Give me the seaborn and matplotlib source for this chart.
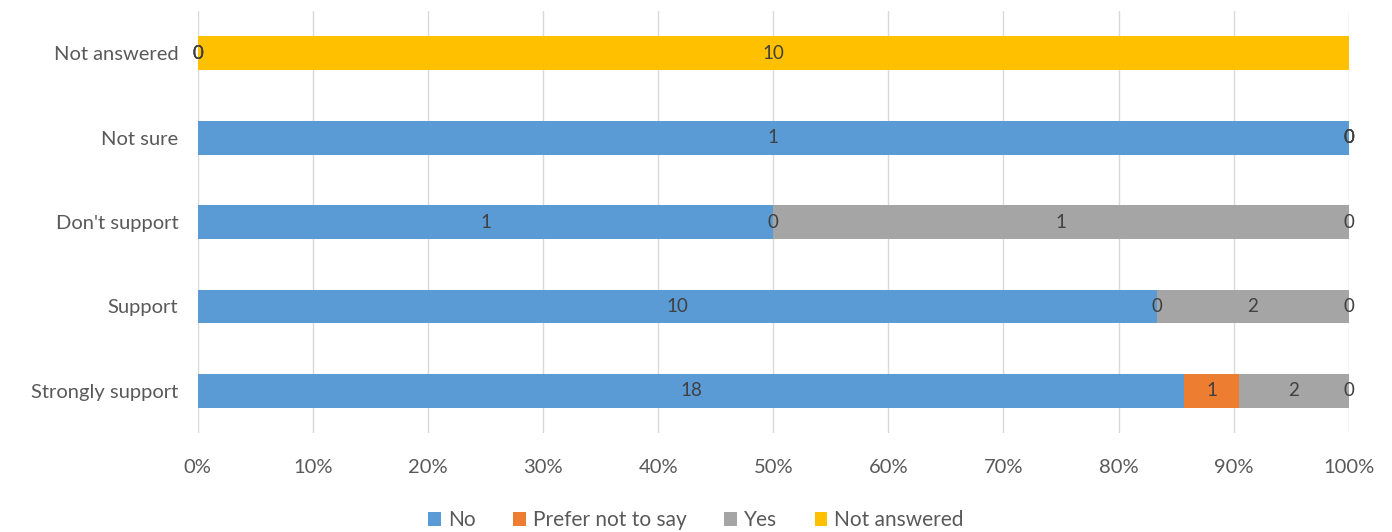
import numpy as np
import pandas as pd
import matplotlib
matplotlib.use("Agg")
import matplotlib.pyplot as plt
import seaborn as sns
from matplotlib.patches import Patch

# categories top -> bottom
categories = ["Not answered", "Not sure", "Don't support", "Support", "Strongly support"]
series = ["No", "Prefer not to say", "Yes", "Not answered"]
no_vals = [0, 1, 1, 10, 18]
prefer_vals = [0, 0, 0, 0, 1]
yes_vals = [0, 0, 1, 2, 2]
na_vals = [10, 0, 0, 0, 0]
colors = ["#5B9BD5", "#ED7D31", "#A5A5A5", "#FFC000"]
xticks = [0, 10, 20, 30, 40, 50, 60, 70, 80, 90, 100]

sns.set_theme(style="white")
plt.rcParams["font.family"] = ["Lato", "DejaVu Sans"]

counts = np.array([no_vals, prefer_vals, yes_vals, na_vals], dtype=float)
totals = counts.sum(axis=0)
pct = counts / totals * 100
cum = np.cumsum(pct, axis=0)

fig = plt.figure(figsize=(13.92, 5.32), dpi=100)
ax = fig.add_axes([0.142, 0.186, 0.827, 0.793])

# overlap cumulative bars, widest first, so they look stacked
for i in range(len(series) - 1, -1, -1):
    df = pd.DataFrame({"cat": categories, "pct": cum[i]})
    sns.barplot(data=df, x="pct", y="cat", orient="h", color=colors[i],
                saturation=1, width=0.4, linewidth=0, ax=ax, zorder=2)

# data labels at middle of each segment
for i in range(len(series)):
    for j in range(len(categories)):
        start = cum[i][j] - pct[i][j]
        ax.text(start + pct[i][j] / 2, j, str(int(counts[i][j])),
                ha="center", va="center", fontsize=13.5, color="#404040", zorder=3)

ax.set_xlim(0, 100)
ax.set_ylim(4.5, -0.5)
ax.set_xticks(xticks)
ax.set_xticklabels([f"{t}%" for t in xticks])
ax.xaxis.grid(True, color="#D9D9D9", linewidth=1, zorder=0)
ax.set_axisbelow(True)
for s in ax.spines.values():
    s.set_visible(False)
ax.set_xlabel("")
ax.set_ylabel("")
ax.tick_params(axis="x", labelsize=14.5, colors="#595959", pad=19, length=0)
ax.tick_params(axis="y", labelsize=14.5, colors="#595959", pad=14, length=0)

handles = [Patch(facecolor=c, edgecolor="none") for c in colors]
fig.legend(handles, series, loc="center", bbox_to_anchor=(0.5, 0.022), ncol=4,
           frameon=False, fontsize=15, labelcolor="#595959",
           handlelength=0.6, handleheight=0.6, handletextpad=0.35, columnspacing=1.8)

fig.savefig("out.png", dpi=100)
